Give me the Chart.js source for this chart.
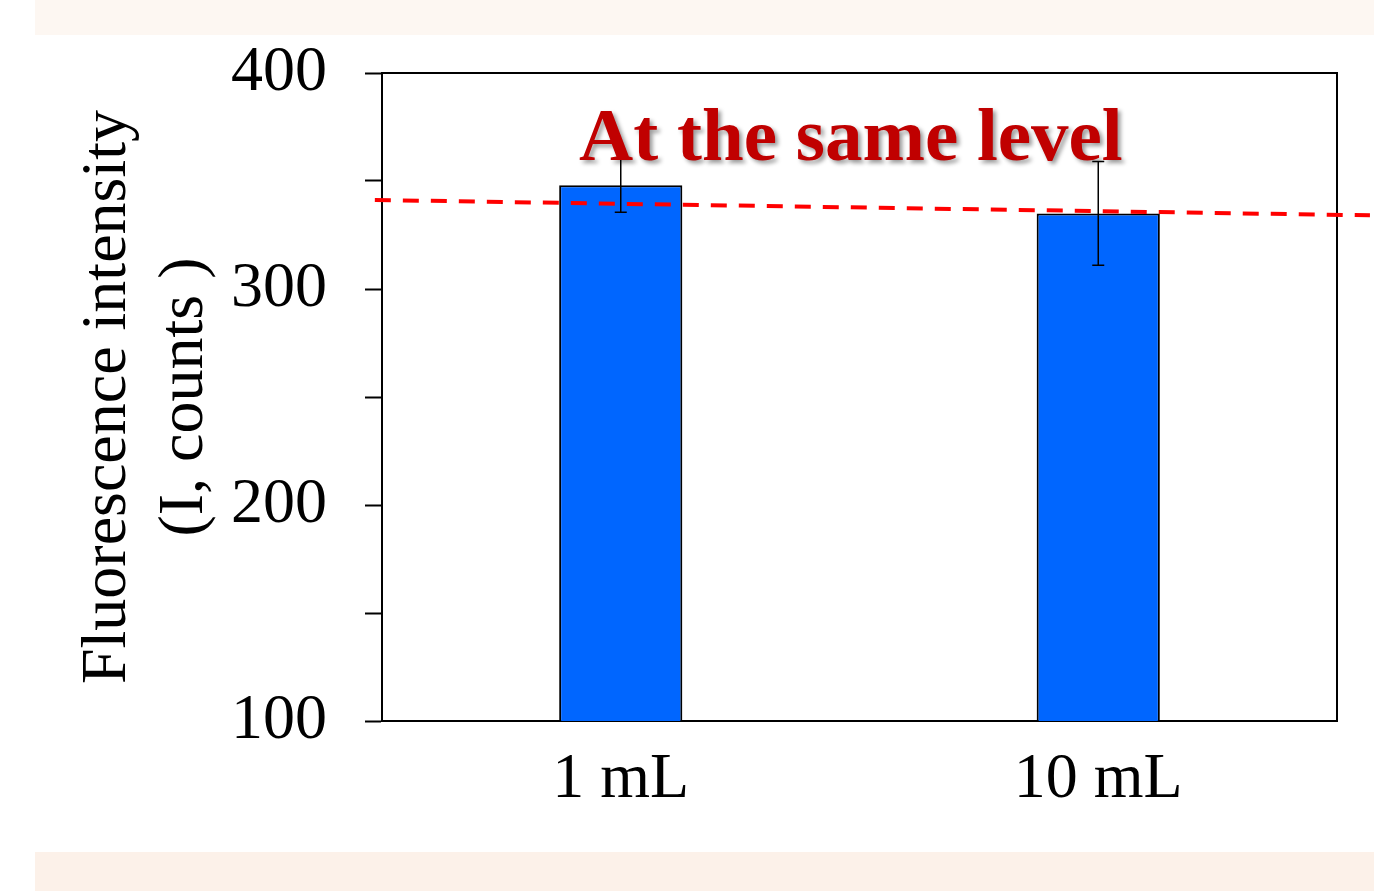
<!DOCTYPE html>
<html>
<head>
<meta charset="utf-8">
<script src="https://cdn.jsdelivr.net/npm/chart.js@4/dist/chart.umd.min.js"></script>
<style>
  html, body { margin: 0; padding: 0; background: #ffffff; }
  #wrap { position: relative; width: 1374px; height: 891px; overflow: hidden; }
  .band { position: absolute; }
  #bandTop { left: 35px; top: 0; width: 1339px; height: 35px; background: #fdf7f2; }
  #bandBottom { left: 35px; top: 852px; width: 1339px; height: 39px; background: #fcf1e9; }
  #chartBox { position: absolute; left: 0; top: 0; width: 1374px; height: 891px; }
</style>
</head>
<body>
<div id="wrap">
  <div id="bandTop" class="band"></div>
  <div id="bandBottom" class="band"></div>
  <div id="chartBox"><canvas id="c"></canvas></div>
</div>
<script>
// ---- data ----
const categories = ['1 mL', '10 mL'];
const intensity = [348, 335];
const errorLow = [12.5, 24];
const errorHigh = [12.5, 24];
const yTickLabels = [100, 200, 300, 400];
const yMin = 100, yMax = 400, yStep = 50;
// dashed reference line, in (category index, value) units
const trendIndex = [-0.515, 1.569];
const trendValue = [341.2, 334.1];
// annotation
const noteText = 'At the same level';
const noteIndex = 0.482;
const noteValue = 359.5;
const yTitle = ['Fluorescence intensity', '(I, counts )'];

const FONT = "'Liberation Serif', 'Times New Roman', serif";

const overlay = {
  id: 'overlay',
  afterDatasetsDraw(chart) {
    const ctx = chart.ctx;
    const xs = chart.scales.x, ys = chart.scales.y;
    const ca = chart.chartArea;
    const idxToPx = (i) => {
      const p0 = xs.getPixelForValue(0), p1 = xs.getPixelForValue(1);
      return p0 + (p1 - p0) * i;
    };
    ctx.save();
    // frame (top and right)
    ctx.strokeStyle = '#000';
    ctx.lineWidth = 2;
    ctx.beginPath();
    ctx.moveTo(ca.left, ca.top);
    ctx.lineTo(ca.right, ca.top);
    ctx.lineTo(ca.right, ca.bottom);
    ctx.stroke();

    // dashed reference line
    ctx.strokeStyle = '#ff0000';
    ctx.lineWidth = 4;
    ctx.setLineDash([16, 12]);
    ctx.beginPath();
    ctx.moveTo(idxToPx(trendIndex[0]), ys.getPixelForValue(trendValue[0]));
    ctx.lineTo(idxToPx(trendIndex[1]), ys.getPixelForValue(trendValue[1]));
    ctx.stroke();
    ctx.setLineDash([]);

    // error bars
    ctx.strokeStyle = '#000';
    ctx.lineWidth = 1.5;
    const meta = chart.getDatasetMeta(0);
    meta.data.forEach((bar, i) => {
      const x = bar.x;
      const yt = ys.getPixelForValue(intensity[i] + errorHigh[i]);
      const yb = ys.getPixelForValue(intensity[i] - errorLow[i]);
      ctx.beginPath();
      ctx.moveTo(x, yt); ctx.lineTo(x, yb);
      ctx.moveTo(x - 6, yt); ctx.lineTo(x + 6, yt);
      ctx.moveTo(x - 6, yb); ctx.lineTo(x + 6, yb);
      ctx.stroke();
    });

    // annotation text
    ctx.font = 'bold 75px ' + FONT;
    ctx.fillStyle = '#c00000';
    ctx.textAlign = 'center';
    ctx.textBaseline = 'alphabetic';
    ctx.shadowColor = 'rgba(0,0,0,0.4)';
    ctx.shadowOffsetX = 3;
    ctx.shadowOffsetY = 3;
    ctx.shadowBlur = 4;
    ctx.fillText(noteText, idxToPx(noteIndex), ys.getPixelForValue(noteValue));
    ctx.restore();
  }
};

new Chart(document.getElementById('c'), {
  type: 'bar',
  data: {
    labels: categories,
    datasets: [{
      data: intensity,
      backgroundColor: '#0066ff',
      borderColor: '#000000',
      borderWidth: 2,
      borderSkipped: false,
      categoryPercentage: 1.0,
      barPercentage: 0.258
    }]
  },
  options: {
    responsive: true,
    maintainAspectRatio: false,
    animation: false,
    layout: { padding: { top: 73, right: 37, left: 0, bottom: 0 } },
    plugins: { legend: { display: false }, tooltip: { enabled: false } },
    scales: {
      x: {
        type: 'category',
        grid: { display: false },
        border: { display: true, color: '#000', width: 2 },
        ticks: { color: '#000', font: { family: FONT, size: 64 }, padding: 13, maxRotation: 0 },
        afterFit(scale) { scale.height = 170; scale.paddingLeft = 0; scale.paddingRight = 0; }
      },
      y: {
        min: yMin, max: yMax,
        grid: { display: true, drawOnChartArea: false, drawTicks: true, tickLength: 17, tickColor: '#000', tickWidth: 2 },
        border: { display: true, color: '#000', width: 2 },
        ticks: {
          stepSize: yStep,
          color: '#000',
          padding: 38,
          font: { family: FONT, size: 64 },
          callback: (v) => yTickLabels.includes(v) ? String(v) : ''
        },
        title: {
          display: true,
          text: yTitle,
          color: '#000',
          font: { family: FONT, size: 64 },
          padding: { top: 70, bottom: 0 }
        },
        afterFit(scale) { scale.width = 382; scale.paddingTop = 0; scale.paddingBottom = 0; }
      }
    }
  },
  plugins: [overlay]
});
</script>
</body>
</html>
